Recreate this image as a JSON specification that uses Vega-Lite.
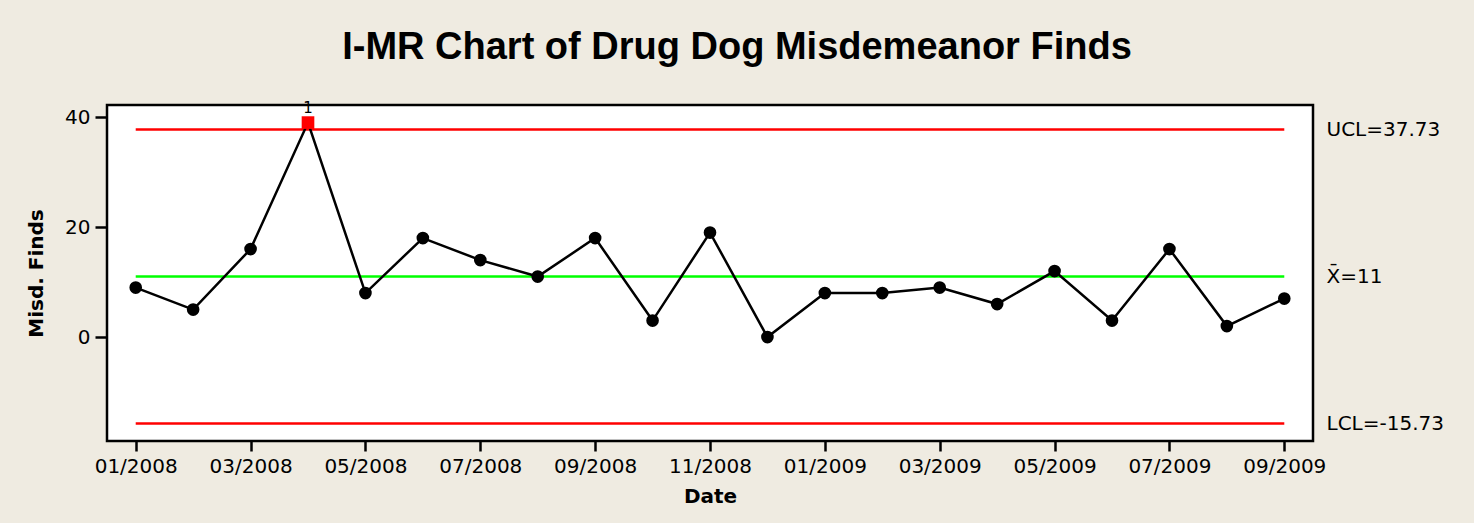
{
  "$schema": "https://vega.github.io/schema/vega-lite/v6.json",
  "width": 1206,
  "height": 336,
  "autosize": {"type": "none"},
  "padding": {"left": 107, "top": 105, "right": 161, "bottom": 82},
  "background": "#EFEBE1",
  "title": {
    "text": "I-MR Chart of Drug Dog Misdemeanor Finds",
    "font": "Liberation Sans",
    "fontSize": 38,
    "fontWeight": "bold",
    "color": "black",
    "anchor": "middle",
    "baseline": "alphabetic",
    "dx": 27,
    "dy": 38,
    "offset": 42
  },
  "config": {
    "view": {"fill": "white", "stroke": "black", "strokeWidth": 2.5},
    "axis": {
      "grid": false,
      "domain": false,
      "tickColor": "black",
      "tickWidth": 2.5,
      "labelColor": "black",
      "labelFont": "DejaVu Sans",
      "titleColor": "black",
      "titleFont": "DejaVu Sans",
      "titleFontWeight": "bold"
    }
  },
  "datasets": {
    "finds": [
      {"month": "01/2008", "finds": 9, "status": "in"},
      {"month": "02/2008", "finds": 5, "status": "in"},
      {"month": "03/2008", "finds": 16, "status": "in"},
      {"month": "04/2008", "finds": 39, "status": "out"},
      {"month": "05/2008", "finds": 8, "status": "in"},
      {"month": "06/2008", "finds": 18, "status": "in"},
      {"month": "07/2008", "finds": 14, "status": "in"},
      {"month": "08/2008", "finds": 11, "status": "in"},
      {"month": "09/2008", "finds": 18, "status": "in"},
      {"month": "10/2008", "finds": 3, "status": "in"},
      {"month": "11/2008", "finds": 19, "status": "in"},
      {"month": "12/2008", "finds": 0, "status": "in"},
      {"month": "01/2009", "finds": 8, "status": "in"},
      {"month": "02/2009", "finds": 8, "status": "in"},
      {"month": "03/2009", "finds": 9, "status": "in"},
      {"month": "04/2009", "finds": 6, "status": "in"},
      {"month": "05/2009", "finds": 12, "status": "in"},
      {"month": "06/2009", "finds": 3, "status": "in"},
      {"month": "07/2009", "finds": 16, "status": "in"},
      {"month": "08/2009", "finds": 2, "status": "in"},
      {"month": "09/2009", "finds": 7, "status": "in"}
    ],
    "limits": [
      {"name": "UCL", "value": 37.73, "start": "01/2008", "end": "09/2009"},
      {"name": "Mean", "value": 11, "start": "01/2008", "end": "09/2009"},
      {"name": "LCL", "value": -15.73, "start": "01/2008", "end": "09/2009"}
    ]
  },
  "layer": [
    {
      "data": {"name": "limits"},
      "mark": {"type": "rule", "strokeWidth": 2.5},
      "encoding": {
        "x": {
          "field": "start",
          "type": "ordinal",
          "scale": {
            "type": "point",
            "padding": 0.5,
            "domain": ["01/2008","02/2008","03/2008","04/2008","05/2008","06/2008","07/2008","08/2008","09/2008","10/2008","11/2008","12/2008","01/2009","02/2009","03/2009","04/2009","05/2009","06/2009","07/2009","08/2009","09/2009"]
          },
          "axis": {
            "title": "Date",
            "titleFontSize": 20,
            "titlePadding": 10,
            "labelFontSize": 20,
            "labelAngle": 0,
            "tickSize": 10,
            "labelPadding": 5,
            "values": ["01/2008","03/2008","05/2008","07/2008","09/2008","11/2008","01/2009","03/2009","05/2009","07/2009","09/2009"]
          }
        },
        "x2": {"field": "end"},
        "y": {
          "field": "value",
          "type": "quantitative",
          "scale": {"domain": [-18.9, 42.2], "nice": false, "zero": false},
          "axis": {
            "orient": "right",
            "title": null,
            "values": [37.73, 11, -15.73],
            "ticks": false,
            "labelFontSize": 20,
            "labelPadding": 13,
            "labelOverlap": false,
            "labelBaseline": "middle",
            "labelExpr": "datum.value > 30 ? 'UCL=37.73' : (datum.value > 0 ? 'X\u0304=11' : 'LCL=-15.73')"
          }
        },
        "color": {
          "field": "name",
          "type": "nominal",
          "scale": {"domain": ["UCL", "Mean", "LCL"], "range": ["#FF0000", "#00FF00", "#FF0000"]},
          "legend": null
        }
      }
    },
    {
      "data": {"name": "finds"},
      "mark": {"type": "line", "color": "black", "strokeWidth": 2.5},
      "encoding": {
        "x": {"field": "month", "type": "ordinal"},
        "y": {
          "field": "finds",
          "type": "quantitative",
          "axis": {
            "orient": "left",
            "title": "Misd. Finds",
            "titleFontSize": 20,
            "titlePadding": 18,
            "labelFontSize": 20,
            "tickSize": 12,
            "labelPadding": 5,
            "values": [0, 20, 40]
          }
        }
      }
    },
    {
      "data": {"name": "finds"},
      "mark": {"type": "point", "filled": true, "opacity": 1, "size": 160},
      "encoding": {
        "x": {"field": "month", "type": "ordinal"},
        "y": {"field": "finds", "type": "quantitative", "axis": null},
        "shape": {
          "field": "status",
          "type": "nominal",
          "scale": {"domain": ["in", "out"], "range": ["circle", "square"]},
          "legend": null
        },
        "color": {
          "field": "status",
          "type": "nominal",
          "scale": {"domain": ["in", "out"], "range": ["black", "#FF0000"]},
          "legend": null
        }
      }
    },
    {
      "data": {"name": "finds"},
      "transform": [{"filter": {"field": "status", "equal": "out"}}],
      "mark": {"type": "text", "text": "1", "font": "DejaVu Sans", "fontSize": 15, "color": "black", "dy": -15, "baseline": "middle"},
      "encoding": {
        "x": {"field": "month", "type": "ordinal"},
        "y": {"field": "finds", "type": "quantitative", "axis": null}
      }
    }
  ],
  "resolve": {"scale": {"color": "independent"}, "axis": {"y": "independent"}}
}
